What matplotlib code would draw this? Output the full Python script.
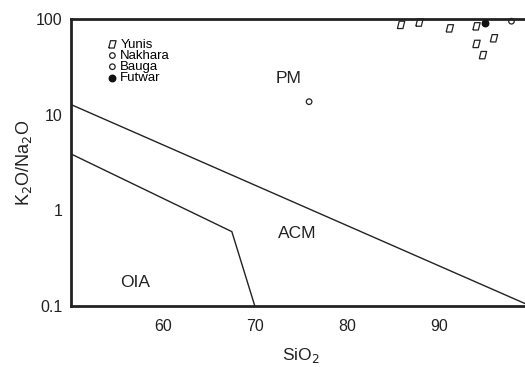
import matplotlib
matplotlib.use("Agg")
import matplotlib.pyplot as plt
import numpy as np

# Boundary lines
pm_acm_x = [50, 100]
pm_acm_y = [12.8, 0.1]
acm_oia_x = [50, 67.5, 70]
acm_oia_y = [3.9, 0.6, 0.1]

# Samples
yunis_x = [85.9, 87.9, 91.2, 94.1, 94.1, 96.0, 94.8]
yunis_y = [87, 92, 80, 84, 55, 63, 42]
nakhara_x = [75.9]
nakhara_y = [13.7]
bauga_x = [97.9]
bauga_y = [95]
futwar_x = [95.0]
futwar_y = [91]

xticks = [60, 70, 80, 90]
yticks = [0.1, 1, 10, 100]
ytick_labels = ["0.1", "1", "10", "100"]

plt.rcParams['font.family'] = ['Liberation Sans', 'DejaVu Sans']

fig = plt.figure(figsize=(5.25, 3.67), dpi=100)
ax = fig.add_axes([0.135, 0.166, 0.876, 0.782])
ax.set_yscale('log')
ax.set_xlim(50, 100)
ax.set_ylim(0.1, 100)

ax.plot(pm_acm_x, pm_acm_y, color='#222222', lw=1.0)
ax.plot(acm_oia_x, acm_oia_y, color='#222222', lw=1.0)

para = [(-1, -1), (0.5, -1), (1, 1), (-0.5, 1), (-1, -1)]
ax.scatter(yunis_x, yunis_y, marker=para, s=28, facecolors='none', edgecolors='#222222', linewidths=0.9, label='Yunis', clip_on=False, zorder=3)
ax.scatter(nakhara_x, nakhara_y, marker='o', s=16, facecolors='none', edgecolors='#222222', linewidths=0.9, label='Nakhara', clip_on=False, zorder=3)
ax.scatter(bauga_x, bauga_y, marker='o', s=16, facecolors='none', edgecolors='#222222', linewidths=0.9, label='Bauga', clip_on=False, zorder=3)
ax.scatter(futwar_x, futwar_y, marker='o', s=22, color='#111111', label='Futwar', clip_on=False, zorder=4)

ax.text(73.7, 24, 'PM', fontsize=12.5, ha='center', va='center', color='#222222')
ax.text(74.6, 0.58, 'ACM', fontsize=12.5, ha='center', va='center', color='#222222')
ax.text(57.0, 0.178, 'OIA', fontsize=12.5, ha='center', va='center', color='#222222')

ax.set_xticks(xticks)
ax.set_xticklabels([str(t) for t in xticks])
ax.set_yticks(yticks)
ax.set_yticklabels(ytick_labels)
ax.minorticks_off()
ax.tick_params(length=0, labelsize=11.5, colors='#222222')
ax.tick_params(axis='x', pad=9)
ax.tick_params(axis='y', pad=6)

for s in ['left', 'bottom', 'top']:
    ax.spines[s].set_linewidth(2)
    ax.spines[s].set_color('#222222')
ax.spines['right'].set_visible(False)

ax.set_xlabel('SiO$_2$', fontsize=12.5, color='#222222', labelpad=9)
ax.set_ylabel('K$_2$O/Na$_2$O', fontsize=13, color='#222222')
ax.yaxis.set_label_coords(-0.08, 0.5)

leg = ax.legend(loc='upper left', bbox_to_anchor=(0.063, 0.955), frameon=False, fontsize=9.5,
                handletextpad=0.15, labelspacing=-0.08, handlelength=0.9, borderpad=0)

fig.savefig('out.png', dpi=100)
